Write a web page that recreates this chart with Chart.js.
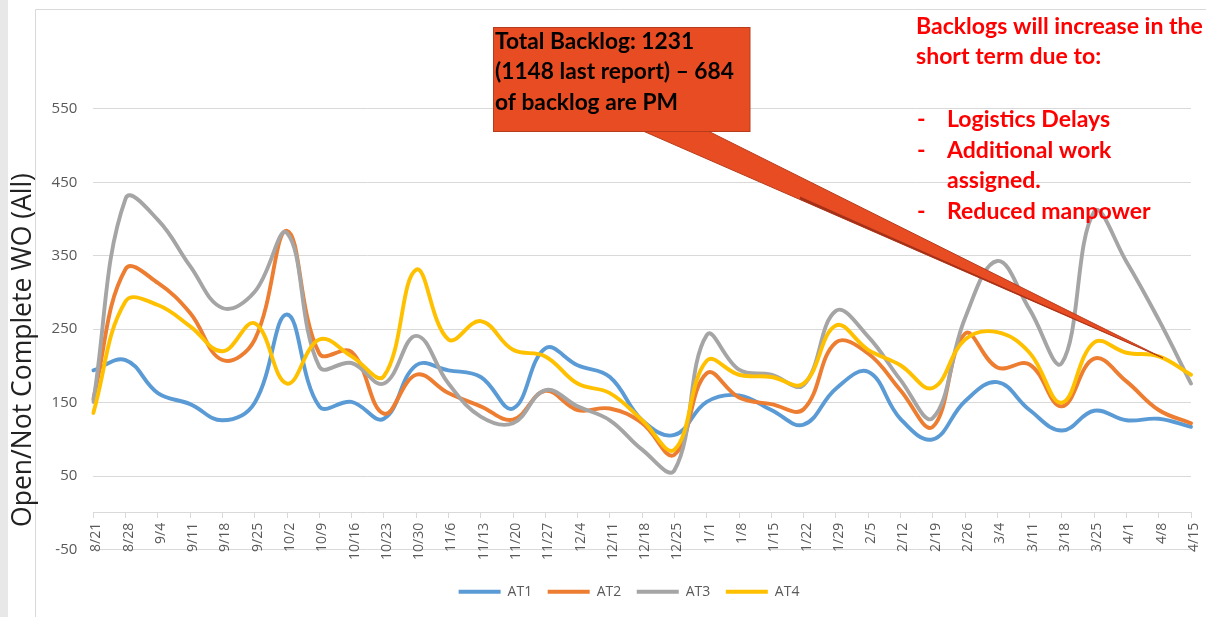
<!DOCTYPE html>
<html>
<head>
<meta charset="utf-8">
<title>Open / Not Complete WO</title>
<script src="https://cdn.jsdelivr.net/npm/chart.js@4.4.1/dist/chart.umd.min.js"></script>
<style>
  html, body { margin: 0; padding: 0; background: #fff; }
  #chart { display: block; }
</style>
</head>
<body>
<canvas id="chart" width="1206" height="617"></canvas>
<script>
'use strict';

// weekly report dates
const weeks = ['8/21', '8/28', '9/4', '9/11', '9/18', '9/25', '10/2', '10/9', '10/16', '10/23',
    '10/30', '11/6', '11/13', '11/20', '11/27', '12/4', '12/11', '12/18', '12/25', '1/1',
    '1/8', '1/15', '1/22', '1/29', '2/5', '2/12', '2/19', '2/26', '3/4', '3/11',
    '3/18', '3/25', '4/1', '4/8', '4/15'];

const at1 = [194, 208, 163, 148, 126, 150, 270, 145, 151, 128, 201, 194, 185, 142, 224, 201, 185, 126, 106, 151,
    160, 140, 120, 169, 192, 128, 100, 152, 178, 140, 112, 139, 126, 128, 117];
const at2 = [155, 332, 313, 272, 208, 236, 384, 217, 219, 135, 188, 163, 145, 127, 166, 140, 142, 122, 79, 190,
    157, 148, 141, 232, 217, 167, 117, 244, 198, 202, 145, 210, 179, 140, 122];
const at3 = [151, 428, 399, 336, 279, 301, 381, 199, 204, 176, 241, 176, 131, 122, 167, 145, 126, 86, 58, 242,
    195, 188, 174, 275, 240, 181, 129, 265, 343, 277, 204, 410, 342, 263, 176];
const at4 = [136, 288, 283, 254, 220, 258, 176, 236, 213, 186, 331, 236, 261, 222, 213, 176, 163, 126, 86, 207,
    188, 185, 176, 255, 222, 201, 170, 236, 246, 218, 150, 232, 218, 213, 188];

const yTicks = [-50, 50, 150, 250, 350, 450, 550];

const axisTitle = 'Open/Not Complete WO (All)';
const calloutLines = ['Total Backlog: 1231', '(1148 last report) \u2013 684', 'of backlog are PM'];
const noteLines = ['Backlogs will increase in the', 'short term due to:'];
const noteBullets = [['Logistics Delays'], ['Additional work', 'assigned.'], ['Reduced manpower']];

const GRID = '#d9d9d9';
const TICK = '#595959';

// pick a font size so that text spans the given width
function fitSize(ctx, text, font, target) {
    ctx.font = font.replace('SIZE', '20px');
    return 20 * target / ctx.measureText(text).width;
}

function series(label, data, color, order) {
    return {
        label: label,
        data: data,
        borderColor: color,
        backgroundColor: color,
        borderWidth: 3.9,
        borderCapStyle: 'round',
        borderJoinStyle: 'round',
        tension: 0.4,
        pointRadius: 0,
        pointHoverRadius: 0,
        pointStyle: 'line',
        pointBorderWidth: 4,
        order: order
    };
}

const slideDecor = {
    id: 'slideDecor',
    afterLayout(chart) {
        // the legend in the source is centred a bit right of the canvas middle
        chart.legend.left = 67;
    },
    beforeDraw(chart) {
        const ctx = chart.ctx;
        ctx.save();
        ctx.fillStyle = '#fff';
        ctx.fillRect(0, 0, chart.width, chart.height);
        ctx.fillStyle = '#e8e8e8';
        ctx.fillRect(0, 0, 8, chart.height);
        ctx.strokeStyle = GRID;
        ctx.lineWidth = 1;
        ctx.beginPath();
        ctx.moveTo(35.5, chart.height);
        ctx.lineTo(35.5, 9.5);
        ctx.lineTo(chart.width, 9.5);
        ctx.stroke();

        const size = fitSize(ctx, axisTitle, 'SIZE "Open Sans"', 354);
        ctx.translate(23, 350);
        ctx.rotate(-Math.PI / 2);
        ctx.font = size + 'px "Open Sans"';
        ctx.fillStyle = '#222';
        ctx.textAlign = 'center';
        ctx.textBaseline = 'middle';
        ctx.fillText(axisTitle, 0, 0);
        ctx.restore();
    },
    afterDraw(chart) {
        const ctx = chart.ctx;
        ctx.save();

        // callout pointer
        ctx.fillStyle = '#e84c22';
        ctx.strokeStyle = '#b83c1c';
        ctx.lineWidth = 1;
        ctx.beginPath();
        ctx.moveTo(643, 131);
        ctx.lineTo(708, 131);
        ctx.lineTo(1163, 358);
        ctx.closePath();
        ctx.fill();
        ctx.stroke();
        // darker twist towards the tip
        ctx.fillStyle = '#a3311a';
        ctx.beginPath();
        ctx.moveTo(800, 199.5);
        ctx.lineTo(1163, 358);
        ctx.lineTo(800, 196.5);
        ctx.closePath();
        ctx.fill();

        // callout box
        ctx.fillStyle = '#e84c22';
        ctx.fillRect(493.5, 27.5, 256.5, 104);
        ctx.strokeStyle = '#b83c1c';
        ctx.strokeRect(493.5, 27.5, 256.5, 104);

        let size = fitSize(ctx, calloutLines[1], 'bold SIZE Lato', 239);
        ctx.font = 'bold ' + size + 'px Lato';
        ctx.fillStyle = '#000';
        ctx.textAlign = 'left';
        ctx.textBaseline = 'middle';
        [42, 72, 103].forEach(function (y, i) {
            ctx.fillText(calloutLines[i], 495, y);
        });

        // red note on the right
        size = fitSize(ctx, noteLines[0], 'bold SIZE Lato', 287);
        ctx.font = 'bold ' + size + 'px Lato';
        ctx.fillStyle = '#ff0000';
        ctx.fillText(noteLines[0], 916, 27);
        ctx.fillText(noteLines[1], 916, 57);
        let y = 120;
        noteBullets.forEach(function (lines) {
            ctx.fillText('-', 917, y);
            lines.forEach(function (line) {
                ctx.fillText(line, 947, y);
                y += 30.5;
            });
        });
        ctx.restore();
    }
};

const chart = new Chart(document.getElementById('chart'), {
    type: 'line',
    data: {
        labels: weeks,
        datasets: [
            series('AT1', at1, '#5b9bd5', 3),
            series('AT2', at2, '#ed7d31', 2),
            series('AT3', at3, '#a5a5a5', 1),
            series('AT4', at4, '#ffc000', 0)
        ]
    },
    options: {
        responsive: false,
        animation: false,
        devicePixelRatio: 1,
        events: [],
        layout: {
            padding: { left: 40, right: 15, top: 72.25, bottom: 8.3 }
        },
        plugins: {
            legend: {
                position: 'bottom',
                title: { display: true, text: ' ', font: { size: 10 }, padding: { top: 7.7, bottom: 0 } },
                labels: {
                    usePointStyle: true,
                    pointStyleWidth: 42,
                    padding: 15.5,
                    color: TICK,
                    font: { family: '"Open Sans"', size: 14 },
                    sort: (a, b) => a.datasetIndex - b.datasetIndex
                }
            },
            tooltip: { enabled: false }
        },
        scales: {
            x: {
                position: { y: 0 },
                afterFit: (scale) => {
                    // rotated labels need no side room
                    scale.paddingLeft = 0;
                    scale.paddingRight = 0;
                },
                grid: { drawOnChartArea: false, drawTicks: true, tickLength: 5, color: GRID },
                border: { display: true, color: GRID, width: 1 },
                ticks: {
                    autoSkip: false,
                    maxRotation: 90,
                    minRotation: 90,
                    padding: 5,
                    labelOffset: 3,
                    color: TICK,
                    font: { family: '"Open Sans"', size: 14 }
                }
            },
            y: {
                min: -50,
                max: 600,
                afterBuildTicks: (scale) => {
                    scale.ticks = yTicks.map((v) => ({ value: v }));
                },
                afterFit: (scale) => {
                    scale.width = 53.3;
                },
                grid: { color: GRID, drawTicks: false },
                border: { display: false },
                ticks: {
                    padding: 16,
                    color: TICK,
                    font: { family: '"Open Sans"', size: 15 }
                }
            }
        }
    },
    plugins: [slideDecor]
});
</script>
</body>
</html>
